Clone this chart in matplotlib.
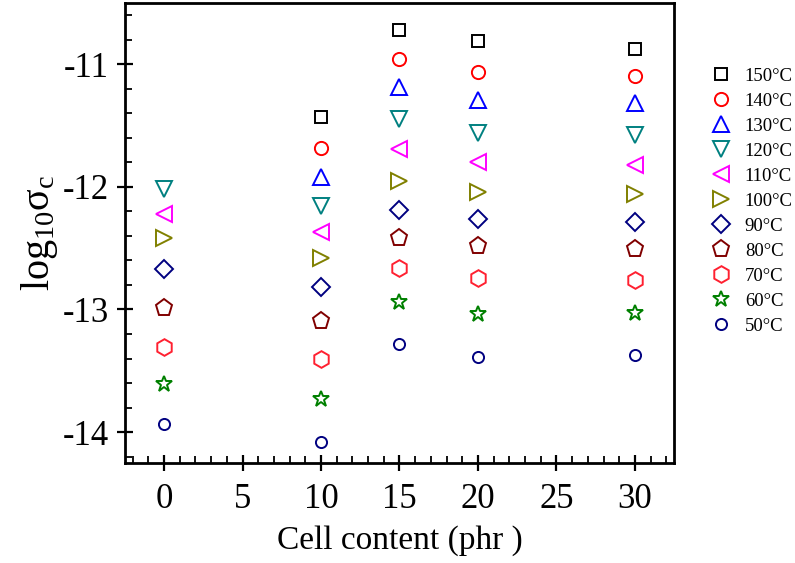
import numpy as np
import matplotlib
matplotlib.use('Agg')
import matplotlib.pyplot as plt

plt.rcParams['font.family'] = ['Liberation Serif', 'DejaVu Serif']
plt.rcParams['mathtext.fontset'] = 'custom'
plt.rcParams['mathtext.rm'] = 'Liberation Serif'
plt.rcParams['mathtext.it'] = 'Liberation Serif:italic'
plt.rcParams['mathtext.default'] = 'regular'

# cell content (phr)
content = [0, 10, 15, 20, 30]

# log10 sigma_c at each temperature, one entry per content (None = no point)
temps = ['150', '140', '130', '120', '110', '100', '90', '80', '70', '60', '50']
sigma = {
    '150': [None, -11.43, -10.72, -10.81, -10.88],
    '140': [None, -11.68, -10.96, -11.06, -11.10],
    '130': [None, -11.92, -11.19, -11.29, -11.32],
    '120': [-12.02, -12.16, -11.45, -11.56, -11.58],
    '110': [-12.22, -12.37, -11.69, -11.80, -11.82],
    '100': [-12.42, -12.58, -11.95, -12.04, -12.06],
    '90':  [-12.67, -12.82, -12.19, -12.26, -12.29],
    '80':  [-12.99, -13.09, -12.42, -12.48, -12.51],
    '70':  [-13.31, -13.40, -12.66, -12.74, -12.76],
    '60':  [-13.61, -13.73, -12.94, -13.04, -13.03],
    '50':  [-13.93, -14.08, -13.28, -13.39, -13.37],
}

markers = ['s', 'o', '^', 'v', '<', '>', 'D', 'p', 'h', '*', 'o']
colors = ['black', '#ff0000', '#0000ff', '#008080', '#ff00ff', '#808000',
          '#000080', '#800000', '#ff2030', '#008000', '#000080']
sizes = [9, 9.5, 11.5, 11.5, 11.5, 11.5, 9.5, 12.5, 12, 12, 8]

fig = plt.figure(figsize=(7.95, 5.63), dpi=100)
ax = fig.add_axes([0.157, 0.178, 0.691, 0.817])

for t, m, c, s in zip(temps, markers, colors, sizes):
    xs = [x for x, v in zip(content, sigma[t]) if v is not None]
    ys = [v for v in sigma[t] if v is not None]
    ax.plot(xs, ys, linestyle='none', marker=m, markersize=s,
            markerfacecolor='none', markeredgecolor=c, markeredgewidth=1.4,
            label=t + '°C')

ax.set_xlim(-2.5, 32.5)
ax.set_ylim(-14.25, -10.5)
ax.set_xticks(np.arange(0, 31, 5))
ax.set_yticks([-14, -13, -12, -11])
ax.set_yticklabels(['-14', '-13', '-12', '-11'])
ax.set_xticks(np.arange(-2, 33, 1), minor=True)
ax.set_yticks(np.arange(-14.2, -10.5, 0.2), minor=True)
ax.tick_params(which='major', direction='inout', length=11, width=1.6,
               labelsize=25, top=False, right=False)
ax.tick_params(axis='x', which='major', pad=9)
ax.tick_params(axis='y', which='major', pad=6)
ax.tick_params(which='minor', direction='in', length=5, width=1.3,
               top=False, right=False)
for sp in ax.spines.values():
    sp.set_linewidth(2)

ax.set_xlabel('Cell content (phr )', fontsize=24, labelpad=7)
ax.set_ylabel(r'log$_{10}$$\sigma_c$', fontsize=29, labelpad=2)

fig.legend(loc='upper left', bbox_to_anchor=(0.885, 0.893), frameon=False,
           fontsize=13.5, handletextpad=0.7, labelspacing=0.42,
           handlelength=1.1, borderaxespad=0)

fig.savefig('out.png', dpi=100)
